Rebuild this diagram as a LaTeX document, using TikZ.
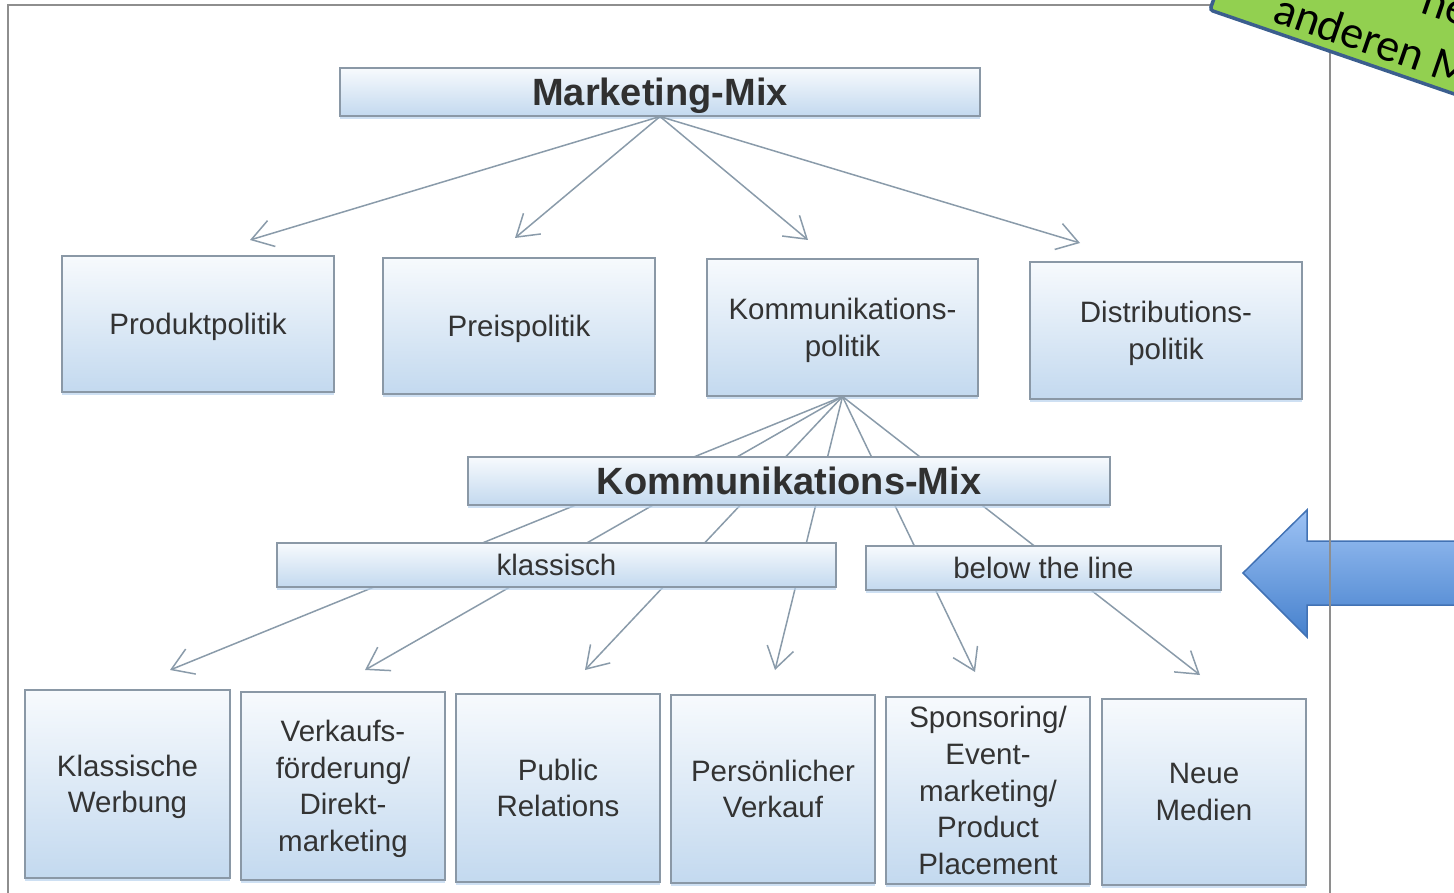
\documentclass[tikz,border=0pt]{standalone}
\usepackage{fontspec}
\setmainfont{Liberation Sans}
\newfontfamily\notefont{Carlito}
\usetikzlibrary{arrows.meta,shadows}

\definecolor{boxline}{HTML}{8A98A6}
\definecolor{boxtop}{HTML}{F7FAFD}
\definecolor{boxbot}{HTML}{C3D9EF}
\definecolor{boxshade}{HTML}{B9D3EE}
\definecolor{textcol}{HTML}{333333}
\definecolor{linkcol}{HTML}{8A9BAA}
\definecolor{framecol}{HTML}{8E8E8E}
\definecolor{notegreen}{HTML}{92D050}
\definecolor{noteborder}{HTML}{3B5E8E}
\definecolor{pointtop}{HTML}{9DC2F4}
\definecolor{pointbot}{HTML}{4681CD}
\definecolor{pointborder}{HTML}{4272B4}

\tikzset{
  box/.style={draw=boxline, line width=1.1pt, top color=boxtop, bottom color=boxbot,
    inner sep=0pt, align=center, text=textcol, text depth=0pt,
    font=\fontsize{29.5}{36.6}\selectfont,
    drop shadow={shadow xshift=0pt, shadow yshift=-3pt, fill=boxshade, opacity=0.7}},
  title/.style={box, font=\fontsize{38}{42}\selectfont\bfseries, text=textcol!95!black},
  link/.style={draw=linkcol, line width=1.5pt},
  arrowlink/.style={link, -{Straight Barb[length=21pt,width=27pt,line width=1.5pt]}},
  notetext/.style={rotate=-19, anchor=base west, inner sep=0pt,
    font=\notefont\fontsize{46}{50}\selectfont},
}

\begin{document}
\begin{tikzpicture}[x=1pt,y=-1pt]
\useasboundingbox (0,0) rectangle (1454,893);
\clip (0,0) rectangle (1454,893);

% block arrow on the right
\path[draw=pointborder, line width=1.5pt, top color=pointtop, bottom color=pointbot, line join=miter]
  (1470,541) -- (1307,541) -- (1307,510) -- (1243,573) -- (1307,637) -- (1307,605) -- (1470,605) -- cycle;

% outer frame
\draw[framecol, line width=2pt] (8,5) rectangle (1330,910);

% green note, rotated
\draw[draw=noteborder, fill=notegreen, line width=3.5pt, rounded corners=3pt]
  (1210,10) -- (1588,140) -- (1653,-49) -- (1275,-179) -- cycle;
\node[notetext] (noteA) at (1271,21) {anderen M};
\node[notetext] (noteB) at (1419,12) {he};

% level 1
\node[title, minimum width=640pt, minimum height=48pt] (mm) at (660,92) {Marketing-Mix};

% level 2
\node[box, minimum width=272pt, minimum height=136pt] (pp)  at (198,324)   {Produktpolitik};
\node[box, minimum width=272pt, minimum height=136pt] (prp) at (519,326)   {Preispolitik};
\node[box, minimum width=271pt, minimum height=137pt] (kp)  at (842.5,327.5) {Kommunikations-\\politik};
\node[box, minimum width=272pt, minimum height=137pt] (dp)  at (1166,330.5) {Distributions-\\politik};

% arrow tips above level 2
\coordinate (t1) at (250,240);
\coordinate (t2) at (515,238);
\coordinate (t3) at (808,240);
\coordinate (t4) at (1080,243);
\foreach \t in {t1,t2,t3,t4} \draw[arrowlink] (mm.south) -- (\t);

% arrow tips above the instruments
\coordinate (u1) at (170,670);
\coordinate (u2) at (365,670);
\coordinate (u3) at (585,670);
\coordinate (u4) at (775,670);
\coordinate (u5) at (975,672);
\coordinate (u6) at (1200,675);
\foreach \u in {u1,u2,u3,u4,u5,u6} \draw[arrowlink] (kp.south) -- (\u);

% communication mix bars (cover the links passing behind)
\node[title, minimum width=642pt, minimum height=48pt] (kmix) at (789,481) {Kommunikations-Mix};
\node[box, minimum width=559pt, minimum height=44pt] (kl)  at (556.5,565) {klassisch};
\node[box, minimum width=355pt, minimum height=44pt] (btl) at (1043.5,568) {below the line};

% instruments
\node[box, minimum width=205pt, minimum height=188pt] (b1) at (127.5,784) {Klassische\\Werbung};
\node[box, minimum width=204pt, minimum height=188pt] (b2) at (343,786) {Verkaufs-\\förderung/\\Direkt-\\marketing};
\node[box, minimum width=204pt, minimum height=188pt] (b3) at (558,788) {Public\\Relations};
\node[box, minimum width=204pt, minimum height=188pt] (b4) at (773,789) {Persönlicher\\Verkauf};
\node[box, minimum width=204pt, minimum height=187pt] (b5) at (988,790.5) {Sponsoring/\\Event-\\marketing/\\Product\\Placement};
\node[box, minimum width=204pt, minimum height=186pt] (b6) at (1204,792) {Neue\\Medien};
\end{tikzpicture}
\end{document}
